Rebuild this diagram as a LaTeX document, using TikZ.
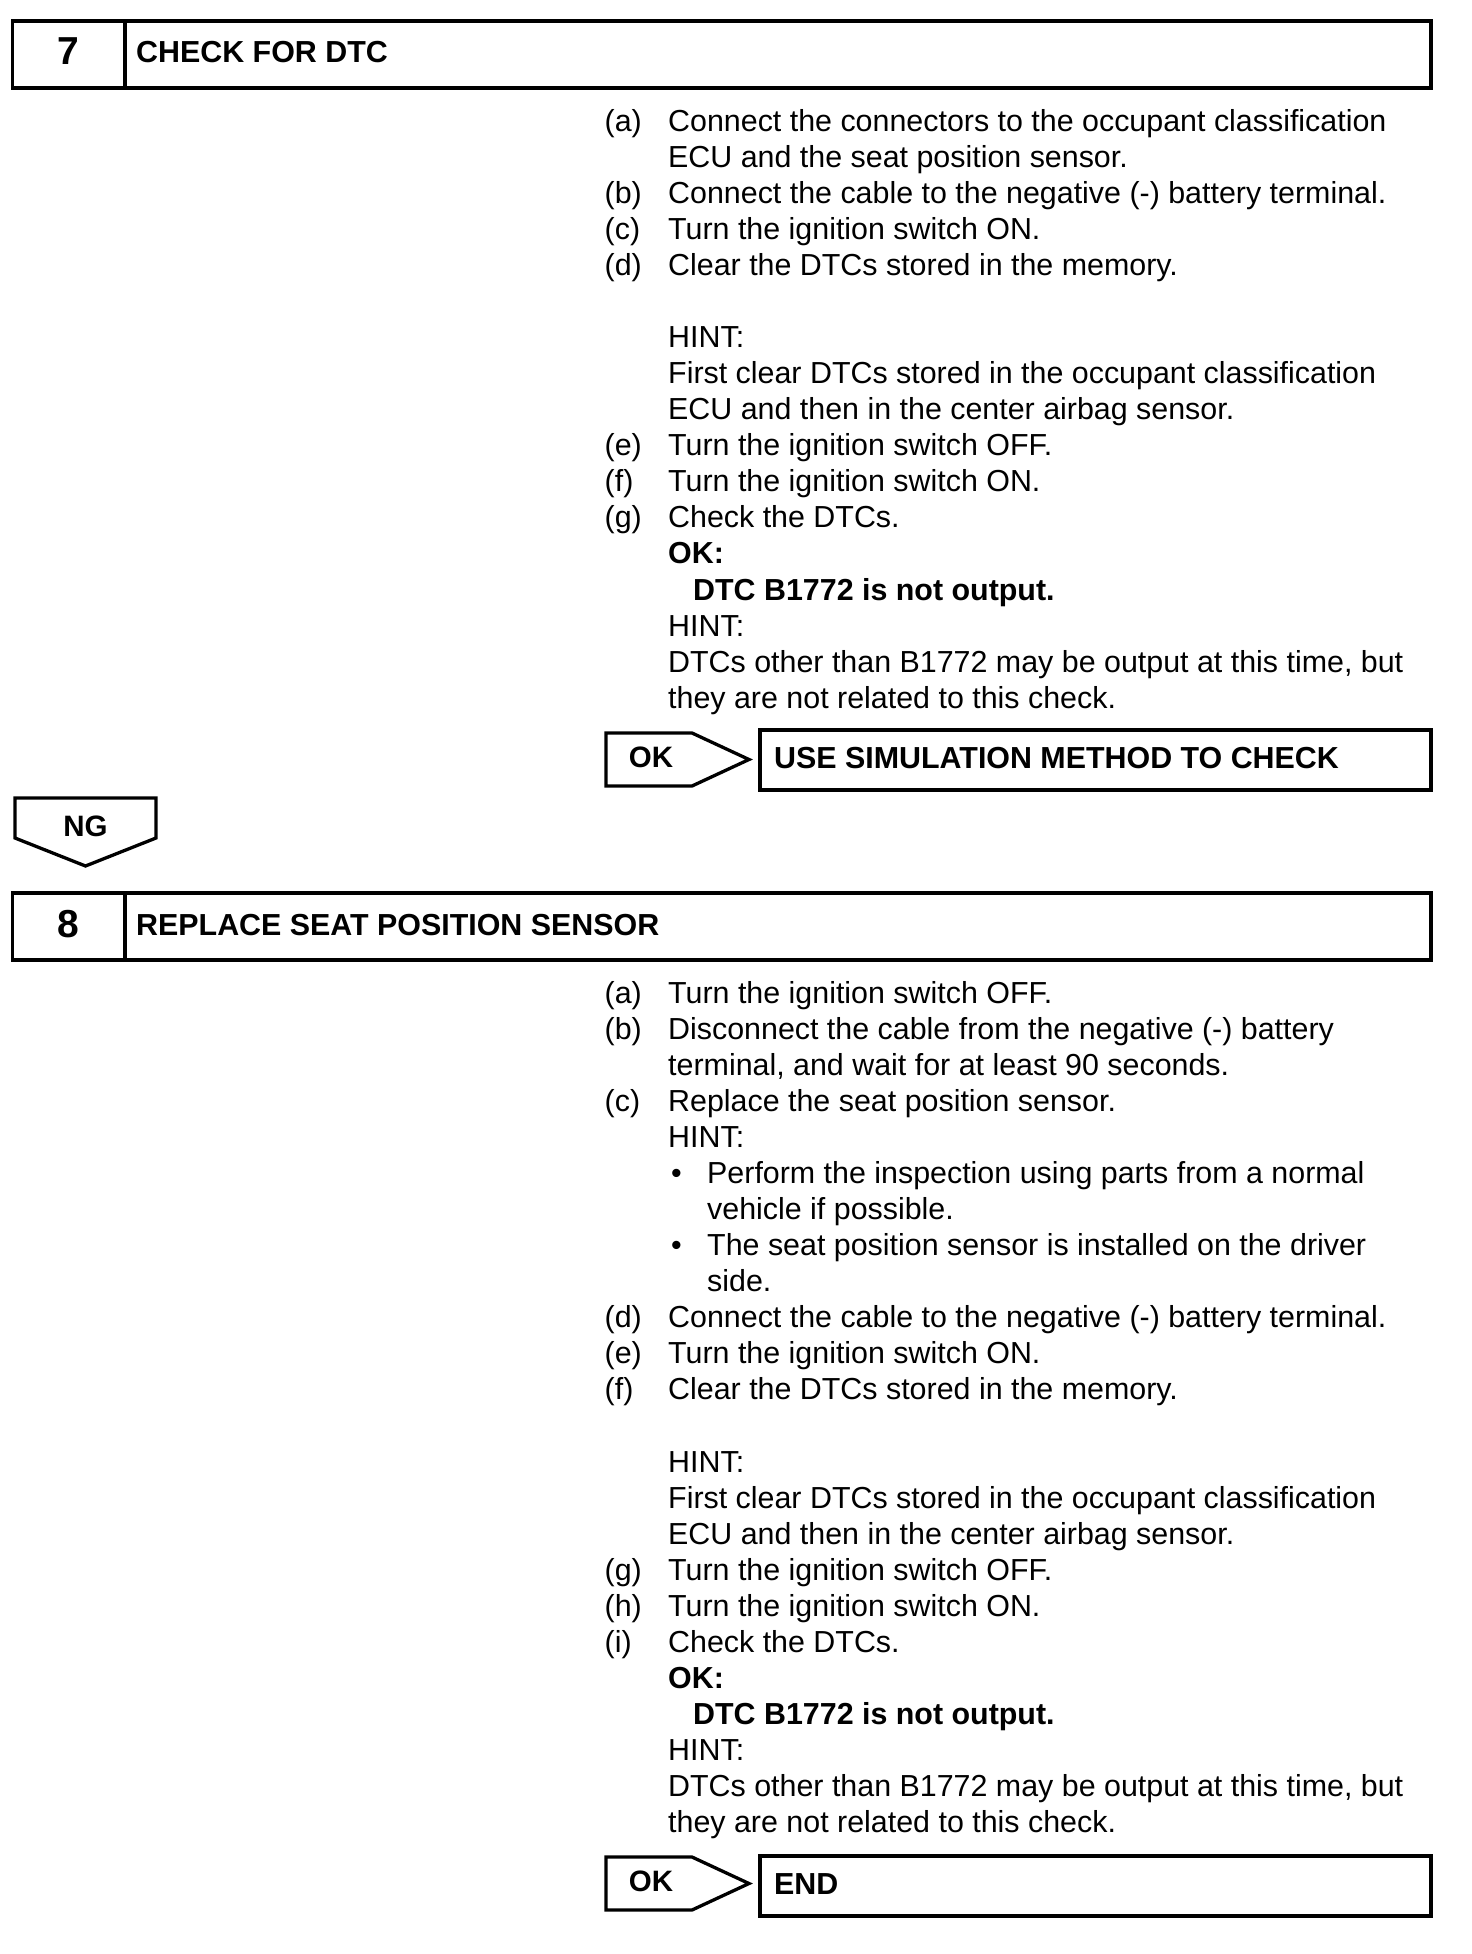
\documentclass[tikz,border=0pt]{standalone}
\usepackage{fontspec}
\setmainfont{Liberation Sans}
\def\myrowsep{36.08}
\def\myBaseA{131}
\def\myBaseB{1003}
\newcommand\LnA[4]{\node[txt] (#1) at (#3,{\myBaseA+#2*\myrowsep}) {#4};}
\newcommand\LnB[4]{\node[txt] (#1) at (#3,{\myBaseB+#2*\myrowsep}) {#4};}
\newcommand\BnA[4]{\node[btxt] (#1) at (#3,{\myBaseA+#2*\myrowsep}) {#4};}
\newcommand\BnB[4]{\node[btxt] (#1) at (#3,{\myBaseB+#2*\myrowsep}) {#4};}
\begin{document}
\begin{tikzpicture}[x=1pt,y=-1pt,
  frame/.style={draw=black,line width=3.3pt,line join=miter},
  txt/.style={anchor=base west,inner sep=0pt,font=\fontsize{30.4}{36}\selectfont},
  btxt/.style={anchor=base west,inner sep=0pt,font=\fontsize{30.4}{36}\selectfont\bfseries},
  numtxt/.style={anchor=base,inner sep=0pt,font=\fontsize{39}{44}\selectfont\bfseries},
  tagtxt/.style={anchor=base,inner sep=0pt,font=\fontsize{29.5}{34}\selectfont\bfseries}]
\useasboundingbox (0,0) rectangle (1472,1954);

% ---------- Header 7 ----------
\draw[frame] (12.5,21) rectangle (1431,88);
\draw[frame] (125,21) -- (125,88);
\node[numtxt] (n7) at (68.5,64.5) {7};
\node[btxt] (h7) at (136,62.5) {CHECK FOR DTC};

% ---------- Section 7 text ----------
\LnA{a7a}{0}{604.5}{(a)}
\LnA{a7at}{0}{668}{Connect the connectors to the occupant classification}
\LnA{a7at2}{1}{668}{ECU and the seat position sensor.}
\LnA{a7b}{2}{604.5}{(b)}
\LnA{a7bt}{2}{668}{Connect the cable to the negative (-) battery terminal.}
\LnA{a7c}{3}{604.5}{(c)}
\LnA{a7ct}{3}{668}{Turn the ignition switch ON.}
\LnA{a7d}{4}{604.5}{(d)}
\LnA{a7dt}{4}{668}{Clear the DTCs stored in the memory.}
\LnA{a7h1}{6}{668}{HINT:}
\LnA{a7h1a}{7}{668}{First clear DTCs stored in the occupant classification}
\LnA{a7h1b}{8}{668}{ECU and then in the center airbag sensor.}
\LnA{a7e}{9}{604.5}{(e)}
\LnA{a7et}{9}{668}{Turn the ignition switch OFF.}
\LnA{a7f}{10}{604.5}{(f)}
\LnA{a7ft}{10}{668}{Turn the ignition switch ON.}
\LnA{a7g}{11}{604.5}{(g)}
\LnA{a7gt}{11}{668}{Check the DTCs.}
\BnA{a7ok}{12}{668}{OK:}
\BnA{a7okt}{13}{693}{DTC B1772 is not output.}
\LnA{a7h2}{14}{668}{HINT:}
\LnA{a7h2a}{15}{668}{DTCs other than B1772 may be output at this time, but}
\LnA{a7h2b}{16}{668}{they are not related to this check.}

% ---------- OK -> USE SIMULATION ----------
\draw[frame] (606,733) -- (692,733) -- (749,759.5) -- (692,786) -- (606,786) -- cycle;
\node[tagtxt] (ok7) at (651,767.5) {OK};
\draw[frame] (760,730) rectangle (1431,790);
\node[btxt] (sim) at (774,768.5) {USE SIMULATION METHOD TO CHECK};

% ---------- NG ----------
\draw[frame] (15,798) -- (156,798) -- (156,838) -- (85.5,866) -- (15,838) -- cycle;
\node[tagtxt] (ng) at (85.5,836) {NG};

% ---------- Header 8 ----------
\draw[frame] (12.5,893) rectangle (1431,960);
\draw[frame] (125,893) -- (125,960);
\node[numtxt] (n8) at (68.5,937) {8};
\node[btxt] (h8) at (136,935) {REPLACE SEAT POSITION SENSOR};

% ---------- Section 8 text ----------
\LnB{b8a}{0}{604.5}{(a)}
\LnB{b8at}{0}{668}{Turn the ignition switch OFF.}
\LnB{b8b}{1}{604.5}{(b)}
\LnB{b8bt}{1}{668}{Disconnect the cable from the negative (-) battery}
\LnB{b8bt2}{2}{668}{terminal, and wait for at least 90 seconds.}
\LnB{b8c}{3}{604.5}{(c)}
\LnB{b8ct}{3}{668}{Replace the seat position sensor.}
\LnB{b8h1}{4}{668}{HINT:}
\LnB{b8bu1}{5}{671}{•}
\LnB{b8bu1t}{5}{707}{Perform the inspection using parts from a normal}
\LnB{b8bu1t2}{6}{707}{vehicle if possible.}
\LnB{b8bu2}{7}{671}{•}
\LnB{b8bu2t}{7}{707}{The seat position sensor is installed on the driver}
\LnB{b8bu2t2}{8}{707}{side.}
\LnB{b8d}{9}{604.5}{(d)}
\LnB{b8dt}{9}{668}{Connect the cable to the negative (-) battery terminal.}
\LnB{b8e}{10}{604.5}{(e)}
\LnB{b8et}{10}{668}{Turn the ignition switch ON.}
\LnB{b8f}{11}{604.5}{(f)}
\LnB{b8ft}{11}{668}{Clear the DTCs stored in the memory.}
\LnB{b8h2}{13}{668}{HINT:}
\LnB{b8h2a}{14}{668}{First clear DTCs stored in the occupant classification}
\LnB{b8h2b}{15}{668}{ECU and then in the center airbag sensor.}
\LnB{b8g}{16}{604.5}{(g)}
\LnB{b8gt}{16}{668}{Turn the ignition switch OFF.}
\LnB{b8hh}{17}{604.5}{(h)}
\LnB{b8hht}{17}{668}{Turn the ignition switch ON.}
\LnB{b8i}{18}{604.5}{(i)}
\LnB{b8it}{18}{668}{Check the DTCs.}
\BnB{b8ok}{19}{668}{OK:}
\BnB{b8okt}{20}{693}{DTC B1772 is not output.}
\LnB{b8h3}{21}{668}{HINT:}
\LnB{b8h3a}{22}{668}{DTCs other than B1772 may be output at this time, but}
\LnB{b8h3b}{23}{668}{they are not related to this check.}

% ---------- OK -> END ----------
\draw[frame] (606,1857) -- (692,1857) -- (749,1883.5) -- (692,1910) -- (606,1910) -- cycle;
\node[tagtxt] (ok8) at (651,1891.5) {OK};
\draw[frame] (760,1856) rectangle (1431,1916);
\node[btxt] (endt) at (774,1894.5) {END};
\end{tikzpicture}
\end{document}
